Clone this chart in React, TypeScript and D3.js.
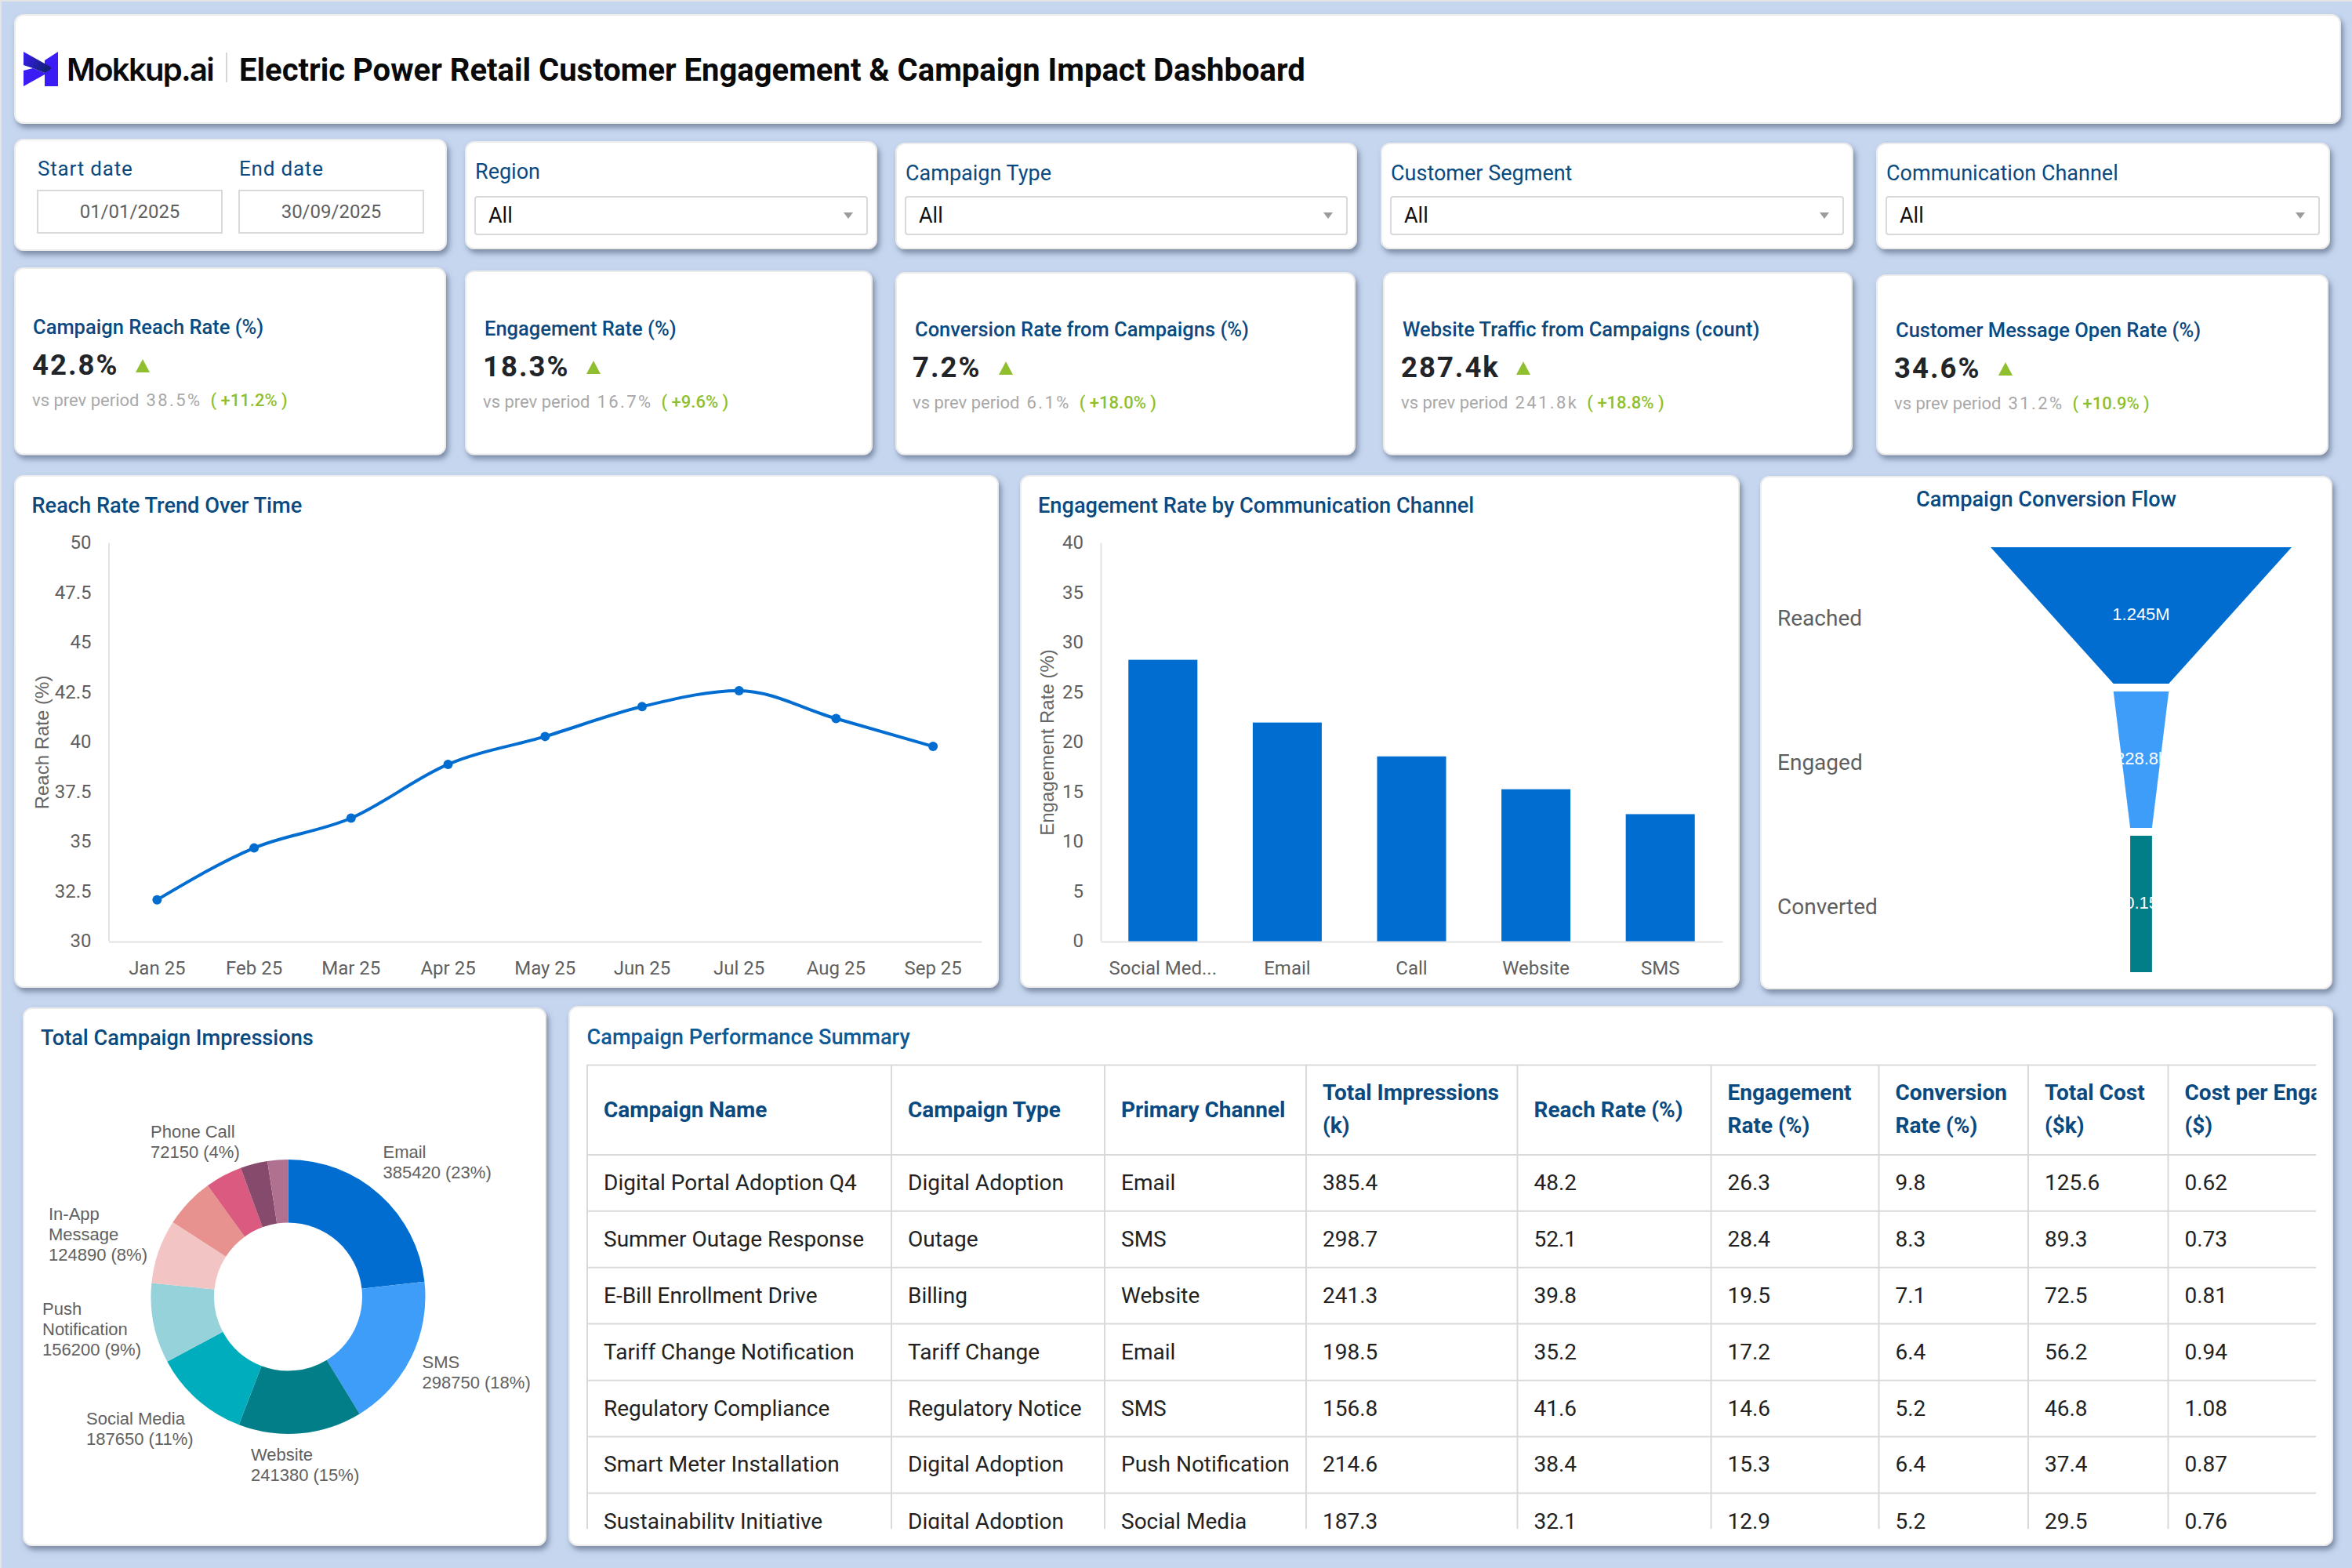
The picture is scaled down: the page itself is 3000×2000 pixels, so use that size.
import React, { useRef, useEffect } from 'react';
import * as d3 from 'd3';

// reach rate trend
const months = ['Jan 25', 'Feb 25', 'Mar 25', 'Apr 25', 'May 25', 'Jun 25', 'Jul 25', 'Aug 25', 'Sep 25'];
const reachRates = [32.1, 34.7, 36.2, 38.9, 40.3, 41.8, 42.6, 41.2, 39.8];

// engagement by channel
const channels = ['Social Med...', 'Email', 'Call', 'Website', 'SMS'];
const engagementRates = [28.3, 22.0, 18.6, 15.3, 12.8];

// funnel
const funnelStages = ['Reached', 'Engaged', 'Converted'];
const funnelValues = [1245000, 228800, 90150];
const funnelLabels = ['1.245M', '228.8k', '90.15k'];
const funnelColors = ['#016dd0', '#3f9dfa', '#017e87'];

// donut (last slices have no label in the picture, values estimated from angles)
const donutNames = ['Email', 'SMS', 'Website', 'Social Media', 'Push Notification', 'In-App Message', '', 'Phone Call', '', ''];
const donutValues = [385420, 298750, 241380, 187650, 156200, 124890, 98000, 72150, 53000, 40000];
const donutPercents = ['23%', '18%', '15%', '11%', '9%', '8%', '', '4%', '', ''];
const donutColors = ['#016dd0', '#3f9dfa', '#017e87', '#00adbc', '#96d2d9', '#f3c4c4', '#e8928f', '#db5a80', '#864a6c', '#b0708f'];

// kpis
const kpiTitles = ['Campaign Reach Rate (%)', 'Engagement Rate (%)', 'Conversion Rate from Campaigns (%)', 'Website Traffic from Campaigns (count)', 'Customer Message Open Rate (%)'];
const kpiValues = ['42.8%', '18.3%', '7.2%', '287.4k', '34.6%'];
const kpiPrev = ['38.5%', '16.7%', '6.1%', '241.8k', '31.2%'];
const kpiDelta = ['+11.2%', '+9.6%', '+18.0%', '+18.8%', '+10.9%'];

const filterNames = ['Region', 'Campaign Type', 'Customer Segment', 'Communication Channel'];
const dateNames = ['Start date', 'End date'];
const dateValues = ['01/01/2025', '30/09/2025'];

// table
const tableHeaders = [
  ['Campaign Name'], ['Campaign Type'], ['Primary Channel'], ['Total Impressions', '(k)'], ['Reach Rate (%)'],
  ['Engagement', 'Rate (%)'], ['Conversion', 'Rate (%)'], ['Total Cost', '($k)'], ['Cost per Engagement', '($)'],
];
const tableRows = [
  ['Digital Portal Adoption Q4', 'Digital Adoption', 'Email', '385.4', '48.2', '26.3', '9.8', '125.6', '0.62'],
  ['Summer Outage Response', 'Outage', 'SMS', '298.7', '52.1', '28.4', '8.3', '89.3', '0.73'],
  ['E-Bill Enrollment Drive', 'Billing', 'Website', '241.3', '39.8', '19.5', '7.1', '72.5', '0.81'],
  ['Tariff Change Notification', 'Tariff Change', 'Email', '198.5', '35.2', '17.2', '6.4', '56.2', '0.94'],
  ['Regulatory Compliance', 'Regulatory Notice', 'SMS', '156.8', '41.6', '14.6', '5.2', '46.8', '1.08'],
  ['Smart Meter Installation', 'Digital Adoption', 'Push Notification', '214.6', '38.4', '15.3', '6.4', '37.4', '0.87'],
  ['Sustainability Initiative', 'Digital Adoption', 'Social Media', '187.3', '32.1', '12.9', '5.2', '29.5', '0.76'],
];

// layout only below here
const NAVY = '#0a4a80';
const GREY = '#5f5f5f';
const ROBOTO = 'Roboto, sans-serif';
const ARIAL = '"Liberation Sans", Arial, sans-serif';

const kpiBoxes = [
  { x: 19, y: 342, r: 568, tx: 42, vx: 41, base: 426 },
  { x: 594, y: 346, r: 1112, tx: 618, vx: 616, base: 428 },
  { x: 1143, y: 348, r: 1728, tx: 1167, vx: 1164, base: 429 },
  { x: 1765, y: 348, r: 2362, tx: 1789, vx: 1787, base: 429 },
  { x: 2394, y: 351, r: 2969, tx: 2418, vx: 2416, base: 430 },
];
const triangleX = [182, 757, 1283, 1943, 2558];
const filterBoxes = [
  { x: 594, r: 1118, y: 181, bx: 606, br: 1106, base: 228 },
  { x: 1143, r: 1730, y: 183, bx: 1155, br: 1718, base: 230 },
  { x: 1762, r: 2363, y: 183, bx: 1774, br: 2351, base: 230 },
  { x: 2394, r: 2971, y: 183, bx: 2406, br: 2958, base: 230 },
];
const donutLabelSpots: Record<string, { x: number; y: number; lines: string[] }> = {
  'Email': { x: 488.5, y: 1477, lines: ['Email'] },
  'SMS': { x: 538.5, y: 1744.5, lines: ['SMS'] },
  'Website': { x: 320, y: 1863, lines: ['Website'] },
  'Social Media': { x: 110, y: 1817, lines: ['Social Media'] },
  'Push Notification': { x: 54, y: 1677, lines: ['Push', 'Notification'] },
  'In-App Message': { x: 62, y: 1555.5, lines: ['In-App', 'Message'] },
  'Phone Call': { x: 192, y: 1451, lines: ['Phone Call'] },
};
const colEdges = [749, 1137, 1409, 1666, 1935.5, 2182.5, 2396.5, 2587, 2765.5];
const rowEdges = [1358.5, 1473, 1544.7, 1616.8, 1688.5, 1760.7, 1832.4, 1904.5, 1976.5];
const tableRight = 2954.5;
const tableBottom = 1950;

const PLOT_TOP = 693;
const PLOT_BOTTOM = 1201;

function Card({ x, y, r, b }: { x: number; y: number; r: number; b: number }) {
  return <rect x={x} y={y} width={r - x} height={b - y} rx={11} fill="#fff" stroke="#ececec" strokeWidth={2} filter="url(#cardShadow)" />;
}

// d3 axis drawn through a ref, tick marks off, text styled afterwards
function Axis({ axis, transform }: { axis: any; transform: string }) {
  const ref = useRef<SVGGElement>(null);
  useEffect(() => {
    if (!ref.current) return;
    const g = d3.select(ref.current);
    g.call(axis);
    g.select('.domain').attr('stroke', '#e3e3e3').attr('stroke-width', 2);
    g.selectAll('text').attr('fill', GREY).style('font-family', ROBOTO).style('font-size', '24px');
  }, [axis]);
  return <g ref={ref} transform={transform} />;
}

function LineChart() {
  const x = d3.scaleBand().domain(months).range([138.5, 1252]);
  const y = d3.scaleLinear().domain([30, 50]).range([PLOT_BOTTOM, PLOT_TOP]);
  const px = (i: number) => x(months[i])! + x.bandwidth() / 2;
  const line = d3.line<number>().x((_, i) => px(i)).y(d => y(d)).curve(d3.curveMonotoneX);
  const left = d3.axisLeft(y).tickValues(d3.range(30, 50.1, 2.5)).tickSize(0).tickPadding(22).tickFormat(d => String(d));
  const bottom = d3.axisBottom(x).tickSize(0).tickPadding(25);
  return (
    <g>
      <text x={40.5} y={654} fontFamily={ROBOTO} fontWeight={500} fontSize={27.2} fill={NAVY}>Reach Rate Trend Over Time</text>
      <text transform="translate(62,947) rotate(-90)" textAnchor="middle" fontFamily={ARIAL} fontSize={24} fill="#666">Reach Rate (%)</text>
      <Axis axis={left} transform="translate(138.5,-1)" />
      <Axis axis={bottom} transform={`translate(0,${PLOT_BOTTOM})`} />
      <path d={line(reachRates) ?? ''} fill="none" stroke="#016dd0" strokeWidth={4} />
      {reachRates.map((v, i) => <circle key={months[i]} cx={px(i)} cy={y(v)} r={6} fill="#016dd0" />)}
    </g>
  );
}

function BarChart() {
  const x = d3.scaleBand().domain(channels).range([1404, 2197]).paddingInner(0.445).paddingOuter(0.2225);
  const y = d3.scaleLinear().domain([0, 40]).range([PLOT_BOTTOM, PLOT_TOP]);
  const left = d3.axisLeft(y).tickValues(d3.range(0, 41, 5)).tickSize(0).tickPadding(22);
  const bottom = d3.axisBottom(x).tickSize(0).tickPadding(25);
  return (
    <g>
      <text x={1324} y={654} fontFamily={ROBOTO} fontWeight={500} fontSize={27.2} fill={NAVY}>Engagement Rate by Communication Channel</text>
      <text transform="translate(1344,947) rotate(-90)" textAnchor="middle" fontFamily={ARIAL} fontSize={24} fill="#666">Engagement Rate (%)</text>
      {engagementRates.map((v, i) => (
        <rect key={channels[i]} x={x(channels[i])} y={y(v)} width={x.bandwidth()} height={PLOT_BOTTOM - y(v)} fill="#016dd0" />
      ))}
      <Axis axis={left} transform="translate(1404,-1)" />
      <Axis axis={bottom} transform={`translate(0,${PLOT_BOTTOM})`} />
    </g>
  );
}

function Funnel() {
  const cx = 2731;
  const width = d3.scaleLinear().domain([0, funnelValues[0]]).range([0, 384]);
  const band = d3.scaleBand().domain(funnelStages).range([698, 1240]).paddingInner(10 / 184);
  return (
    <g>
      <text x={2610} y={646} textAnchor="middle" fontFamily={ROBOTO} fontWeight={500} fontSize={27.2} fill={NAVY}>Campaign Conversion Flow</text>
      {funnelStages.map((stage, i) => {
        const top = width(funnelValues[i]) / 2;
        const bot = width(funnelValues[Math.min(i + 1, funnelValues.length - 1)]) / 2;
        const y0 = band(stage)!;
        const y1 = y0 + band.bandwidth();
        const pts = `${cx - top},${y0} ${cx + top},${y0} ${cx + bot},${y1} ${cx - bot},${y1}`;
        return (
          <g key={stage}>
            <clipPath id={`funnel-${i}`}><polygon points={pts} /></clipPath>
            <polygon points={pts} fill={funnelColors[i]} />
            <text x={2267} y={y0 + 100} fontFamily={ROBOTO} fontSize={28} fill={GREY}>{stage}</text>
            <g clipPath={`url(#funnel-${i})`}>
              <text x={cx} y={y0 + 93} textAnchor="middle" fontFamily={ARIAL} fontSize={22} fill="#fff">{funnelLabels[i]}</text>
            </g>
          </g>
        );
      })}
    </g>
  );
}

function Donut() {
  const pie = d3.pie<number>().sort(null);
  const arc = d3.arc<d3.PieArcDatum<number>>().innerRadius(94.5).outerRadius(175);
  const arcs = pie(donutValues);
  return (
    <g>
      <text x={52} y={1333} fontFamily={ROBOTO} fontWeight={500} fontSize={27.2} fill={NAVY}>Total Campaign Impressions</text>
      <g transform="translate(367.5,1654)">
        {arcs.map((a, i) => <path key={i} d={arc(a) ?? ''} fill={donutColors[i]} />)}
      </g>
      {donutNames.map((name, i) => {
        const spot = donutLabelSpots[name];
        if (!spot) return null;
        const lines = [...spot.lines, `${donutValues[i]} (${donutPercents[i]})`];
        return (
          <text key={name} x={spot.x} y={spot.y} fontFamily={ARIAL} fontSize={22} fill="#616161">
            {lines.map((l, j) => <tspan key={j} x={spot.x} dy={j === 0 ? 0 : 26}>{l}</tspan>)}
          </text>
        );
      })}
    </g>
  );
}

function Table() {
  const edges = [...colEdges, tableRight];
  return (
    <g>
      <text x={748.5} y={1331.5} fontFamily={ROBOTO} fontWeight={500} fontSize={27.2} fill="#0d5a96">Campaign Performance Summary</text>
      <clipPath id="tableClip"><rect x={747} y={1357} width={tableRight - 747} height={tableBottom - 1357} /></clipPath>
      <g clipPath="url(#tableClip)">
        {rowEdges.map(y => <line key={y} x1={749} x2={tableRight} y1={y} y2={y} stroke="#d9d9d9" strokeWidth={2} />)}
        {colEdges.map(x => <line key={x} x1={x} x2={x} y1={1358} y2={tableBottom} stroke="#d9d9d9" strokeWidth={2} />)}
        {tableHeaders.map((lines, c) => lines.map((l, j) => (
          <text key={l} x={edges[c] + 21} y={lines.length === 1 ? 1425 : 1403 + j * 42} fontFamily={ROBOTO} fontWeight={700} fontSize={28} fill={NAVY}>{l}</text>
        )))}
        {tableRows.map((row, r) => row.map((cell, c) => (
          <text key={`${r}-${c}`} x={edges[c] + 21} y={rowEdges[r + 1] + 45} fontFamily={ROBOTO} fontSize={28} fill="#222">{cell}</text>
        )))}
      </g>
    </g>
  );
}

export default function App() {
  return (
    <svg width={3000} height={2000} style={{ position: 'absolute', left: 0, top: 0, display: 'block' }} fontFamily={ROBOTO}>
      <defs>
        <filter id="cardShadow" x="-5%" y="-10%" width="110%" height="125%">
          <feDropShadow dx={3} dy={5} stdDeviation={3.5} floodColor="#55637d" floodOpacity={0.65} />
        </filter>
        <linearGradient id="logoGrad" x1="0" x2="1" y1="0" y2="0.5">
          <stop offset="0" stopColor="#3b1cf5" />
          <stop offset="1" stopColor="#122078" />
        </linearGradient>
      </defs>
      <rect width={3000} height={2000} fill="#c6d6ef" />
      <rect width={3000} height={2} fill="#e4e4e4" />
      <rect width={2} height={2000} fill="#e4e4e4" />

      {/* header */}
      <Card x={19} y={19} r={2985} b={157} />
      <path d="M74 66 L57 77 L57 110 L74 110 Z" fill="#3b1cf5" />
      <path d="M30 90 L42 87 L57 93 L57 95 L30 110 Z" fill="#3b1cf5" />
      <path d="M30 66 L64 85 Q66 87 64 89 L57 93 L42 87 L30 83 Z" fill="url(#logoGrad)" />
      <text x={85} y={103} fontFamily="Inter, sans-serif" fontWeight={600} fontSize={40} letterSpacing={-1.7} fill="#0a0a0a">Mokkup.ai</text>
      <line x1={289} x2={289} y1={67} y2={105} stroke="#c9c9c9" strokeWidth={1.5} />
      <text x={305} y={103} fontWeight={700} fontSize={40} fill="#0a0a0a">Electric Power Retail Customer Engagement &amp; Campaign Impact Dashboard</text>

      {/* date filter */}
      <Card x={19} y={178} r={569} b={319} />
      {dateNames.map((name, i) => {
        const bx = i === 0 ? 48 : 305;
        return (
          <g key={name}>
            <text x={bx} y={224} fontSize={26} letterSpacing={0.8} fill={NAVY}>{name}</text>
            <rect x={bx} y={243} width={235} height={54} fill="#fff" stroke="#d9d9d9" strokeWidth={2} />
            <text x={bx + 117.5} y={278} textAnchor="middle" fontSize={24} fill={GREY}>{dateValues[i]}</text>
          </g>
        );
      })}

      {/* dropdown filters */}
      {filterNames.map((name, i) => {
        const f = filterBoxes[i];
        const c = f.br - 24;
        return (
          <g key={name}>
            <Card x={f.x} y={f.y} r={f.r} b={317} />
            <text x={f.bx} y={f.base} fontSize={27} fill={NAVY}>{name}</text>
            <rect x={f.bx} y={251} width={f.br - f.bx} height={48} rx={3} fill="#fff" stroke="#d9d9d9" strokeWidth={2} />
            <text x={f.bx + 17} y={284} fontSize={27} fill="#111">All</text>
            <path d={`M${c - 6} 271 L${c + 6} 271 L${c} 279 Z`} fill="#9b9b9b" />
          </g>
        );
      })}

      {/* kpi cards */}
      {kpiTitles.map((title, i) => {
        const k = kpiBoxes[i];
        const tx = triangleX[i];
        const vy = k.base + 52;
        return (
          <g key={title}>
            <Card x={k.x} y={k.y} r={k.r} b={579.5} />
            <text x={k.tx} y={k.base} fontWeight={500} fontSize={25.5} fill={NAVY}>{title}</text>
            <text x={k.vx} y={vy} fontWeight={700} fontSize={36.5} letterSpacing={2} fill="#212529">{kpiValues[i]}</text>
            <path d={`M${tx - 9} ${vy - 3} L${tx + 9} ${vy - 3} L${tx} ${vy - 20} Z`} fill="#8fbf2e" />
            <text x={k.vx} y={k.base + 92} fontSize={22} fill="#a8a8a8">
              vs prev period
              <tspan dx={9} letterSpacing={2.4}>{kpiPrev[i]}</tspan>
              <tspan dx={11} fill="#8fbf2e" fontWeight={500}>( {kpiDelta[i]} )</tspan>
            </text>
          </g>
        );
      })}

      {/* chart cards */}
      <Card x={19} y={607} r={1273} b={1259} />
      <LineChart />
      <Card x={1302} y={607} r={2218} b={1259} />
      <BarChart />
      <Card x={2246} y={608} r={2974} b={1261} />
      <Funnel />
      <Card x={30} y={1286} r={696} b={1971} />
      <Donut />
      <Card x={726} y={1284} r={2975} b={1971} />
      <Table />
    </svg>
  );
}
